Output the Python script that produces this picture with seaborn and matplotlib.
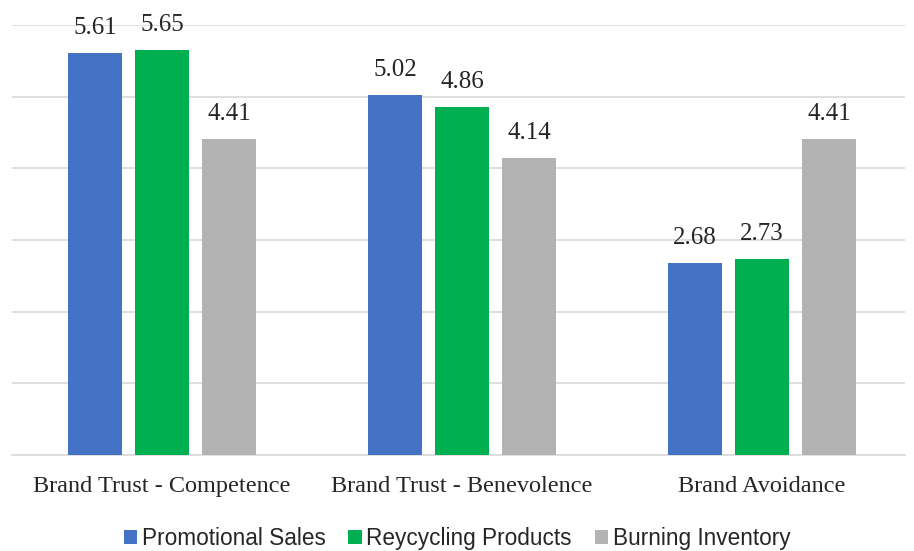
import pandas as pd
import matplotlib.pyplot as plt
import seaborn as sns

categories = ["Brand Trust - Competence", "Brand Trust - Benevolence", "Brand Avoidance"]
series = ["Promotional Sales", "Reycycling Products", "Burning Inventory"]
promotional = [5.61, 5.02, 2.68]
recycling = [5.65, 4.86, 2.73]
burning = [4.41, 4.14, 4.41]
colors = ["#4472C4", "#00B050", "#B3B3B3"]

rows = []
for name, vals in zip(series, [promotional, recycling, burning]):
    for cat, v in zip(categories, vals):
        rows.append({"category": cat, "series": name, "value": v})
df = pd.DataFrame(rows)

sns.set_theme(style="white")
plt.rcParams["font.family"] = ["Liberation Serif", "DejaVu Serif"]

fig = plt.figure(figsize=(9.14, 5.51), dpi=100)
ax = fig.add_axes([12 / 914, 96 / 551, 893 / 914, 430 / 551])

sns.barplot(data=df, x="category", y="value", hue="series", palette=colors,
            width=0.67, gap=0.2, ax=ax, legend=True, saturation=1, zorder=3,
            linewidth=0)

ax.set_ylim(0, 6)
ax.set_xlim(-0.5, 2.477)
ax.set_yticks(range(0, 7))
ax.set_yticklabels([])
ax.tick_params(axis="y", length=0)
ax.tick_params(axis="x", length=0, labelsize=17.5, pad=15)
ax.yaxis.grid(True, color="#D9D9D9", linewidth=1.2, zorder=0)
for s in ["top", "right", "left"]:
    ax.spines[s].set_visible(False)
ax.spines["bottom"].set_color("#D9D9D9")
ax.spines["bottom"].set_linewidth(1.2)
ax.set_xlabel("")
ax.set_ylabel("")

for cont in ax.containers:
    ax.bar_label(cont, fmt="%.2f", padding=10, fontsize=18)

handles, labels = ax.get_legend_handles_labels()
ax.get_legend().remove()
fig.legend(handles, labels, loc="lower center", bbox_to_anchor=(0.5, -0.035), ncol=3,
           frameon=False, handlelength=0.6, handleheight=0.6, handletextpad=0.2,
           columnspacing=1.0, prop={"family": "Liberation Sans", "size": 16.3})

fig.savefig("out.png", dpi=100)
